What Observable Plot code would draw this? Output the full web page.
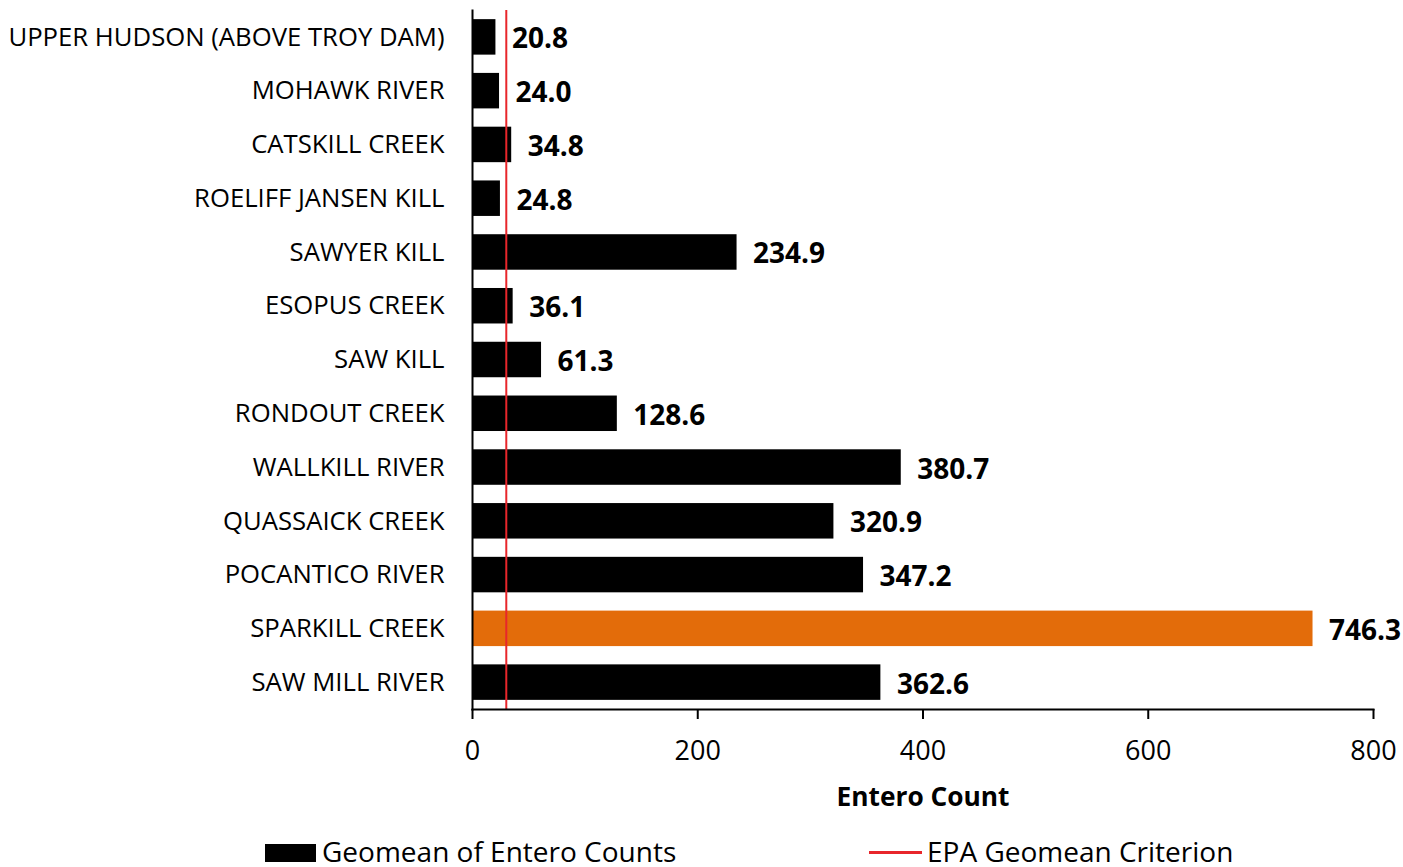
<!DOCTYPE html>
<html>
<head>
<meta charset="utf-8">
<script src="https://cdn.jsdelivr.net/npm/d3@7"></script>
<script src="https://cdn.jsdelivr.net/npm/@observablehq/plot@0.6"></script>
<style>
  html, body { margin: 0; padding: 0; background: white; width: 1403px; height: 867px; overflow: hidden; }
  #chart { position: absolute; left: 0; top: 0; }
  .legend { position: absolute; font-family: "Open Sans", sans-serif; font-size: 28px; color: black; white-space: nowrap; line-height: 1; }
</style>
</head>
<body>
<div id="chart"></div>
<div class="legend" style="left:265px; top:844px; width:51px; height:18px; background:black;"></div>
<div class="legend" style="left:322px; top:837px;">Geomean of Entero Counts</div>
<div class="legend" style="left:869px; top:851px; width:53px; height:3px; background:#e8262b;"></div>
<div class="legend" style="left:927px; top:837px;">EPA Geomean Criterion</div>
<script>
const sites = [
  "UPPER HUDSON (ABOVE TROY DAM)",
  "MOHAWK RIVER",
  "CATSKILL CREEK",
  "ROELIFF JANSEN KILL",
  "SAWYER KILL",
  "ESOPUS CREEK",
  "SAW KILL",
  "RONDOUT CREEK",
  "WALLKILL RIVER",
  "QUASSAICK CREEK",
  "POCANTICO RIVER",
  "SPARKILL CREEK",
  "SAW MILL RIVER"
];
const geomeans = [20.8, 24.0, 34.8, 24.8, 234.9, 36.1, 61.3, 128.6, 380.7, 320.9, 347.2, 746.3, 362.6];
const highlightSite = "SPARKILL CREEK";
const criterion = 30;
const xTicks = [0, 200, 400, 600, 800];
const xLabel = "Entero Count";

const data = sites.map((s, i) => ({site: s, value: geomeans[i]}));

const chart = Plot.plot({
  width: 1403,
  height: 830,
  marginLeft: 472,
  marginRight: 30,
  marginTop: 10,
  marginBottom: 121,
  style: {fontFamily: "Open Sans, sans-serif", background: "white", color: "black", overflow: "visible"},
  x: {domain: [0, 800], ticks: xTicks},
  y: {domain: sites, paddingInner: 0.34, paddingOuter: 0.17, round: false, label: null},
  marks: [
    Plot.barX(data, {x: "value", y: "site", fill: d => d.site === highlightSite ? "#e36c0a" : "black"}),
    Plot.text(data, {x: "value", y: "site", text: d => d.value.toFixed(1), textAnchor: "start", dx: 16, dy: 2, fontWeight: "bold", fontSize: 28, fill: "black"}),
    Plot.ruleX([criterion], {stroke: "#e8262b", strokeWidth: 2}),
    Plot.frame({anchor: "left", stroke: "black", strokeWidth: 2}),
    Plot.frame({anchor: "bottom", stroke: "black", strokeWidth: 2}),
    Plot.axisX({ticks: xTicks, tickSize: 10, tickPadding: 21, fontSize: 27, label: null, strokeWidth: 2}),
    Plot.axisY({tickSize: 0, tickPadding: 28, fontSize: 25.7, label: null}),
    Plot.text([xLabel], {frameAnchor: "bottom", lineAnchor: "middle", dy: 88, fontWeight: "bold", fontSize: 26.3, fill: "black"})
  ]
});
document.getElementById("chart").appendChild(chart);
</script>
</body>
</html>
